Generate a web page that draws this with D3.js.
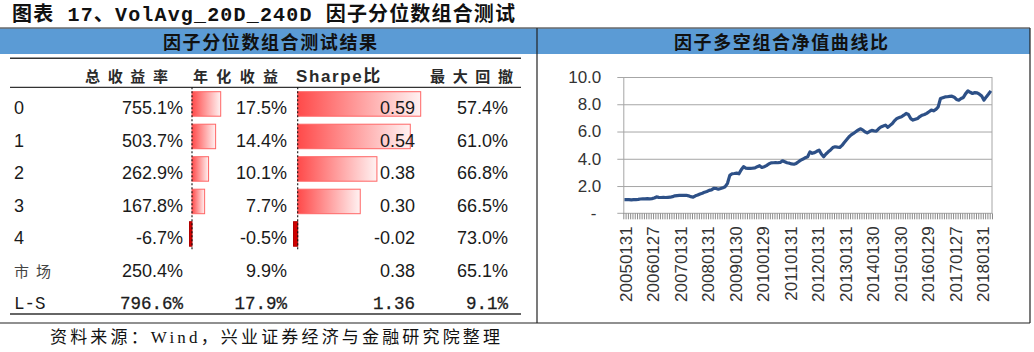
<!DOCTYPE html>
<html>
<head>
<meta charset="utf-8">
<script src="https://cdn.jsdelivr.net/npm/d3@7"></script>
<style>
  body { margin: 0; background: #fff; }
</style>
</head>
<body>
<div id="chart"></div>
<script>
// table data
var rowLabels = ["0", "1", "2", "3", "4", "市场", "L-S"];
var colHeaders = ["总收益率", "年化收益", "Sharpe比", "最大回撤"];
var totalReturn = [755.1, 503.7, 262.9, 167.8, -6.7, 250.4, 796.6];
var annualReturn = [17.5, 14.4, 10.1, 7.7, -0.5, 9.9, 17.9];
var sharpe = [0.59, 0.54, 0.38, 0.30, -0.02, 0.38, 1.36];
var maxDrawdown = [57.4, 61.0, 66.8, 66.5, 73.0, 65.1, 9.1];
var NUM_BAR_ROWS = 5;   // data bars only on the quantile groups

// long-short net value, monthly
var netValue = [
  1.00, 1.00, 1.00, 0.99, 1.00, 1.01, 1.02, 1.05, 1.06, 1.06,
  1.07, 1.06, 1.08, 1.12, 1.20, 1.17, 1.16, 1.17, 1.16, 1.17,
  1.18, 1.22, 1.28, 1.30, 1.31, 1.32, 1.31, 1.32, 1.28, 1.22,
  1.18, 1.28, 1.34, 1.42, 1.47, 1.55, 1.60, 1.68, 1.72, 1.83,
  1.82, 1.77, 1.82, 1.88, 1.95, 2.20, 2.78, 2.90, 2.92, 2.95,
  2.90, 3.20, 3.42, 3.32, 3.30, 3.30, 3.31, 3.33, 3.42, 3.49,
  3.36, 3.42, 3.50, 3.62, 3.70, 3.71, 3.72, 3.71, 3.73, 3.85,
  3.78, 3.71, 3.68, 3.62, 3.60, 3.66, 3.78, 3.90, 3.98, 4.08,
  4.15, 4.51, 4.40, 4.45, 4.55, 4.64, 4.35, 4.15, 4.35, 4.51,
  4.65, 4.82, 4.88, 4.85, 4.83, 4.98, 5.20, 5.40, 5.60, 5.75,
  5.86, 5.98, 6.10, 6.20, 6.12, 5.98, 5.90, 6.00, 6.08, 6.05,
  6.03, 6.20, 6.34, 6.40, 6.47, 6.30, 6.45, 6.59, 6.80, 6.96,
  7.02, 7.08, 7.20, 7.33, 7.25, 6.95, 6.84, 6.90, 6.96, 7.10,
  7.20, 7.25, 7.33, 7.45, 7.57, 7.52, 7.62, 7.81, 8.42, 8.48,
  8.54, 8.55, 8.58, 8.59, 8.52, 8.35, 8.30, 8.42, 8.50, 8.78,
  8.98, 8.88, 8.79, 8.86, 8.84, 8.74, 8.60, 8.30, 8.54, 8.75,
  8.98
];
// one label every 12 months
var xTickLabels = ["20050131", "20060127", "20070131", "20080131", "20090130",
  "20100129", "20110131", "20120131", "20130131", "20140130", "20150130",
  "20160129", "20170127", "20180131"];
var yTickValues = [0, 2, 4, 6, 8, 10];
var yTickLabels = ["-", "2.0", "4.0", "6.0", "8.0", "10.0"];

var W = 1034, H = 352;
var CJK = "'Noto Sans CJK SC', sans-serif";
var SANS = "'Liberation Sans', Arial, sans-serif";

var svg = d3.select("#chart")
  .append("svg")
    .attr("width", W)
    .attr("height", H)
    .style("display", "block");

svg.append("rect").attr("width", W).attr("height", H).attr("fill", "#fff");

// figure title
svg.append("text")
    .attr("x", 12)
    .attr("y", 21)
    .attr("textLength", 503)
    .attr("lengthAdjust", "spacing")
    .style("font-family", "'Liberation Mono', 'Noto Sans CJK SC', monospace")
    .style("font-size", "20px")
    .style("font-weight", "bold")
    .attr("fill", "#111")
    .text("图表 17、VolAvg_20D_240D 因子分位数组合测试");

// blue header bands
var bandTop = 28.5, bandBottom = 54;
svg.append("rect")
    .attr("x", 0).attr("y", bandTop)
    .attr("width", 1030).attr("height", bandBottom - bandTop)
    .attr("fill", "#5B9BD5");

var panelTitles = [
  {text: "因子分位数组合测试结果", cx: 270},
  {text: "因子多空组合净值曲线比", cx: 781}
];
svg.selectAll(".ptitle")
  .data(panelTitles)
  .enter().append("text")
    .attr("class", "ptitle")
    .attr("x", function(d) { return d.cx; })
    .attr("y", 49)
    .attr("text-anchor", "middle")
    .attr("textLength", 214)
    .attr("lengthAdjust", "spacing")
    .style("font-family", CJK)
    .style("font-size", "18px")
    .style("font-weight", "bold")
    .attr("fill", "#111")
    .text(function(d) { return d.text; });

// frame lines
var frame = svg.append("g").attr("stroke", "#222").attr("stroke-width", 1.2);
frame.append("line").attr("x1", 0).attr("x2", 1030).attr("y1", 28).attr("y2", 28);
frame.append("line").attr("x1", 0).attr("x2", 1030).attr("y1", 323).attr("y2", 323);
frame.append("line").attr("x1", 537).attr("x2", 537).attr("y1", 28).attr("y2", 323);
frame.append("line").attr("x1", 1030).attr("x2", 1030).attr("y1", 28).attr("y2", 323);

// ---------------- left table ----------------
var table = svg.append("g");
var ruleX0 = 10, ruleX1 = 521;
[58.3, 87.3, 314].forEach(function(yy, k) {
  table.append("line")
      .attr("x1", ruleX0).attr("x2", ruleX1)
      .attr("y1", yy).attr("y2", yy)
      .attr("stroke", "#333")
      .attr("stroke-width", k == 1 ? 1.3 : 1.6);
});

// header labels (Sharpe比 keeps its natural Latin spacing)
var headerSpans = [[85, 83], [193, 85], [296, 0], [430, 83]];
table.selectAll(".hdr")
  .data(colHeaders)
  .enter().append("text")
    .attr("class", "hdr")
    .attr("x", function(d, i) { return headerSpans[i][0]; })
    .attr("y", 82)
    .attr("textLength", function(d, i) { return headerSpans[i][1] || null; })
    .attr("lengthAdjust", "spacing")
    .attr("letter-spacing", function(d, i) { return headerSpans[i][1] ? "0px" : "1.6px"; })
    .style("font-family", "'Liberation Sans', 'Noto Sans CJK SC', sans-serif")
    .style("font-size", function(d, i) { return headerSpans[i][1] ? "15px" : "17px"; })
    .style("font-weight", "bold")
    .attr("fill", "#2a2a2a")
    .text(function(d) { return d; });

var ROW0_BASE = 114.3, ROW_STEP = 32.5;
function rowBase(i) { return ROW0_BASE + ROW_STEP * i; }

// data bar scales
var annAxisX = 192, shpAxisX = 297.7;
var annScale = d3.scaleLinear().domain([0, 17.5]).range([0, 28.7]);
var shpScale = d3.scaleLinear().domain([0, 0.59]).range([0, 123]);

var defs = svg.append("defs");
var grad = defs.append("linearGradient")
    .attr("id", "barGrad")
    .attr("x1", "0%").attr("x2", "100%")
    .attr("y1", "0%").attr("y2", "0%");
grad.append("stop").attr("offset", "0%").attr("stop-color", "#FF4A4A");
grad.append("stop").attr("offset", "100%").attr("stop-color", "#FFF2F2");

function drawBars(values, scale, axisX) {
  var barData = values.slice(0, NUM_BAR_ROWS);
  table.append("g").selectAll("rect")
    .data(barData)
    .enter().append("rect")
      .attr("x", function(d) {
        var w = Math.max(Math.abs(scale(d) - scale(0)), 2.5);
        return d >= 0 ? axisX : axisX - w;
      })
      .attr("y", function(d, i) { return rowBase(i) - 22.6; })
      .attr("width", function(d) { return Math.max(Math.abs(scale(d) - scale(0)), 2.5); })
      .attr("height", 24.5)
      .attr("fill", function(d) { return d >= 0 ? "url(#barGrad)" : "#D00000"; })
      .attr("stroke", function(d) { return d >= 0 ? "#FF6666" : "#B00000"; })
      .attr("stroke-width", 1);
  // dashed axis line
  table.append("line")
      .attr("x1", axisX).attr("x2", axisX)
      .attr("y1", 87.3).attr("y2", 250)
      .attr("stroke", "#111")
      .attr("stroke-width", 1.1)
      .attr("stroke-dasharray", "2,2");
}
drawBars(annualReturn, annScale, annAxisX);
drawBars(sharpe, shpScale, shpAxisX);

// table body text
var rows = rowLabels.map(function(lab, i) {
  return {label: lab, tot: totalReturn[i], ann: annualReturn[i],
          shp: sharpe[i], dd: maxDrawdown[i], i: i};
});
function fontFor(d) {
  if (d.label == "L-S") return "'Liberation Mono', monospace";
  return SANS;
}
var cols = [
  {x: 183, f: function(d) { return d.tot.toFixed(1) + "%"; }},
  {x: 287, f: function(d) { return d.ann.toFixed(1) + "%"; }},
  {x: 415, f: function(d) { return d.shp.toFixed(2); }},
  {x: 508, f: function(d) { return d.dd.toFixed(1) + "%"; }}
];

var rowG = table.selectAll(".row")
  .data(rows)
  .enter().append("g")
    .attr("class", "row");

rowG.append("text")
    .attr("x", 14)
    .attr("y", function(d) { return rowBase(d.i); })
    .attr("letter-spacing", function(d) { return d.label == "市场" ? "7px" : "0px"; })
    .style("font-family", function(d) {
      if (d.label == "市场") return CJK;
      return fontFor(d);
    })
    .style("font-size", function(d) {
      if (d.label == "市场") return "15px";
      return d.label == "L-S" ? "17.5px" : "18px";
    })
    .attr("fill", function(d) { return d.label == "市场" ? "#444" : "#1a1a1a"; })
    .text(function(d) { return d.label; });

cols.forEach(function(c) {
  rowG.append("text")
      .attr("x", c.x)
      .attr("y", function(d) { return rowBase(d.i); })
      .attr("text-anchor", "end")
      .style("font-family", fontFor)
      .style("font-size", function(d) { return d.label == "L-S" ? "17.5px" : "18px"; })
      .attr("stroke", function(d) { return d.label == "L-S" ? "#222" : "none"; })
      .attr("stroke-width", 0.3)
      .attr("fill", "#1a1a1a")
      .text(c.f);
});

// ---------------- right line chart ----------------
var px0 = 623.3, px1 = 992, py0 = 213.3, py1 = 77;
var n = netValue.length;

var x = d3.scaleLinear()
  .domain([0, n])
  .range([px0, px1]);

var y = d3.scaleLinear()
  .domain([0, 10])
  .range([py0, py1]);

var chart = svg.append("g");

// horizontal gridlines (start at the outward tick)
chart.append("g")
    .attr("transform", "translate(" + (px0 - 6) + ",0)")
    .call(d3.axisLeft(y)
        .tickValues(yTickValues.slice(1))
        .tickSize(-(px1 - px0 + 6))
        .tickFormat(""))
    .call(function(g) { g.select(".domain").remove(); })
    .selectAll("line")
      .attr("stroke", "#A6A6A6");

// plot border right side
chart.append("line")
    .attr("x1", px1).attr("x2", px1).attr("y1", py1).attr("y2", py0)
    .attr("stroke", "#A6A6A6");

// y axis labels
var yAxis = chart.append("g")
    .attr("transform", "translate(" + px0 + ",0)")
    .call(d3.axisLeft(y)
        .tickValues(yTickValues)
        .tickSize(0)
        .tickPadding(22)
        .tickFormat(function(d, i) { return yTickLabels[i]; }));
yAxis.select(".domain").attr("stroke", "#A6A6A6");
yAxis.selectAll("text")
    .style("font-family", SANS)
    .style("font-size", "17px")
    .attr("fill", "#333")
    .attr("dx", function(d) { return d === 0 ? -5 : 0; });

// x axis: a tick at every month boundary
var xAxis = chart.append("g")
    .attr("transform", "translate(0," + py0 + ")")
    .call(d3.axisBottom(x)
        .tickValues(d3.range(n + 1))
        .tickSize(6)
        .tickFormat(""));
xAxis.select(".domain").attr("stroke", "#A6A6A6")
    .attr("d", "M" + (px0 - 6) + ",0H" + px1);
xAxis.selectAll("line").attr("stroke", "#8A8A8A").attr("stroke-width", 1);

// x labels, rotated
var labelPos = xTickLabels.map(function(d, k) { return k * 12 + 0.5; });
var xLab = chart.append("g")
    .attr("transform", "translate(0," + py0 + ")")
    .call(d3.axisBottom(x)
        .tickValues(labelPos)
        .tickSize(0)
        .tickFormat(function(d, i) { return xTickLabels[i]; }));
xLab.select(".domain").remove();
xLab.selectAll("text")
    .style("font-family", SANS)
    .style("font-size", "17px")
    .attr("fill", "#333")
    .attr("text-anchor", "end")
    .attr("transform", "rotate(-90)")
    .attr("x", -13)
    .attr("y", 1)
    .attr("dy", "0.35em");

// the line
chart.append("path")
    .datum(netValue)
    .attr("fill", "none")
    .attr("stroke", "#2D5087")
    .attr("stroke-width", 3.2)
    .attr("stroke-linejoin", "round")
    .attr("d", d3.line()
      .x(function(d, i) { return x(i + 0.5); })
      .y(function(d) { return y(d); })
    );

// source note
svg.append("text")
    .attr("x", 50)
    .attr("y", 343)
    .attr("textLength", 450)
    .attr("lengthAdjust", "spacing")
    .style("font-family", "'Liberation Serif', 'Noto Sans CJK SC', serif")
    .style("font-size", "17px")
    .attr("fill", "#111")
    .text("资料来源：Wind，兴业证券经济与金融研究院整理");
</script>
</body>
</html>
